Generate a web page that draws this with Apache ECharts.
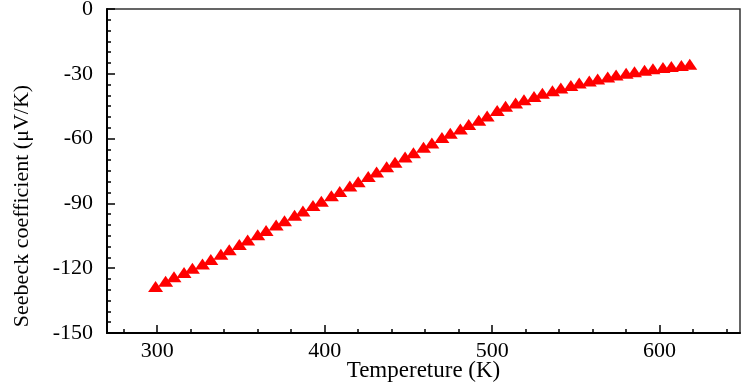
<!DOCTYPE html>
<html>
<head>
<meta charset="utf-8">
<script src="https://cdn.jsdelivr.net/npm/echarts@6/dist/echarts.min.js"></script>
<style>
    html, body { margin: 0; padding: 0; background: #fff; }
    #chart { width: 747px; height: 382px; }
</style>
</head>
<body>
<div id="chart"></div>
<script>
// temperature (K)
var temps = [299, 305, 310, 316, 321, 327, 332, 338, 343, 349, 354, 360, 365, 371, 376, 382,
    387, 393, 398, 404, 409, 415, 420, 426, 431, 437, 442, 448, 453, 459, 464, 470, 475, 481,
    486, 492, 497, 503, 508, 514, 519, 525, 530, 536, 541, 547, 552, 558, 563, 569, 574, 580,
    585, 591, 596, 602, 607, 613, 618];
// seebeck coefficient (uV/K)
var seebeck = [-128.5, -126, -124, -122, -120, -118, -116, -113.5, -111.5, -109, -107, -104.5,
    -102.5, -100, -98, -95.5, -93.5, -91, -89, -86.5, -84.5, -82, -80, -77.5, -75.5, -73, -71,
    -68.5, -66.5, -64, -62, -59.5, -57.5, -55.5, -53.5, -51.5, -49.5, -47, -45, -43.5, -42,
    -40.5, -39, -37.8, -36.6, -35.4, -34.3, -33.3, -32.4, -31.5, -30.6, -29.8, -29, -28.3,
    -27.7, -27.1, -26.6, -26.1, -25.6];
var xMajorTicks = [300, 400, 500, 600];
var xMinorTicks = [280, 320, 340, 360, 380, 420, 440, 460, 480, 520, 540, 560, 580, 620, 640];

var serif = "'Liberation Serif', 'DejaVu Serif', serif";

(function seebeckMap(){
    var myChart = echarts.init(document.getElementById('chart'));
    var pts = [];
    for (var i = 0; i < temps.length; i++) {
        pts.push([temps[i], seebeck[i]]);
    }
    var gridBox = {left: 107, right: 7, top: 9, bottom: 49, outerBoundsMode: 'none', containLabel: false};
    var option = {
        animation: false,
        grid: [
            echarts.util.extend({show: true, borderColor: '#333', borderWidth: 1.5}, gridBox),
            echarts.util.extend({show: false}, gridBox)
        ],
        xAxis: [
            {
                type: 'value',
                gridIndex: 0,
                position: 'bottom',
                min: 270,
                max: 648,
                name: 'Tempereture (K)',
                nameLocation: 'middle',
                nameGap: 26,
                nameMoveOverlap: false,
                nameTextStyle: {fontFamily: serif, fontSize: 23, color: '#000'},
                axisLine: {onZero: false, lineStyle: {color: '#000', width: 2}},
                axisTick: {inside: true, length: 8, customValues: xMajorTicks, lineStyle: {color: '#000', width: 1.5}},
                axisLabel: {customValues: xMajorTicks, margin: 7, fontFamily: serif, fontSize: 22, color: '#000'},
                splitLine: {show: false}
            },
            {
                // 小刻度
                type: 'value',
                gridIndex: 1,
                position: 'bottom',
                min: 270,
                max: 648,
                axisLine: {show: false, onZero: false},
                axisTick: {inside: true, length: 4, customValues: xMinorTicks, lineStyle: {color: '#000', width: 1.5}},
                axisLabel: {show: false},
                splitLine: {show: false}
            }
        ],
        yAxis: [
            {
                type: 'value',
                gridIndex: 0,
                min: -150,
                max: 0,
                interval: 30,
                name: 'Seebeck coefficient (\u03bcV/K)',
                nameLocation: 'middle',
                nameGap: 74,
                nameMoveOverlap: false,
                nameTextStyle: {fontFamily: serif, fontSize: 22, color: '#000', padding: [0, 70, 0, 0]},
                axisLine: {onZero: false, lineStyle: {color: '#000', width: 2}},
                axisTick: {inside: true, length: 8, lineStyle: {color: '#000', width: 1.5}},
                minorTick: {show: true, splitNumber: 6, length: 4, lineStyle: {color: '#000', width: 1.5}},
                axisLabel: {margin: 14, fontFamily: serif, fontSize: 22, color: '#000'},
                splitLine: {show: false}
            },
            {
                type: 'value',
                gridIndex: 1,
                min: -150,
                max: 0,
                show: false
            }
        ],
        series: [
            {
                name: 'S',
                type: 'scatter',
                xAxisIndex: 0,
                yAxisIndex: 0,
                symbol: 'triangle',
                symbolSize: [15, 11],
                itemStyle: {color: '#ff0000', opacity: 1},
                data: pts
            }
        ]
    };
    myChart.setOption(option);
})();
</script>
</body>
</html>
